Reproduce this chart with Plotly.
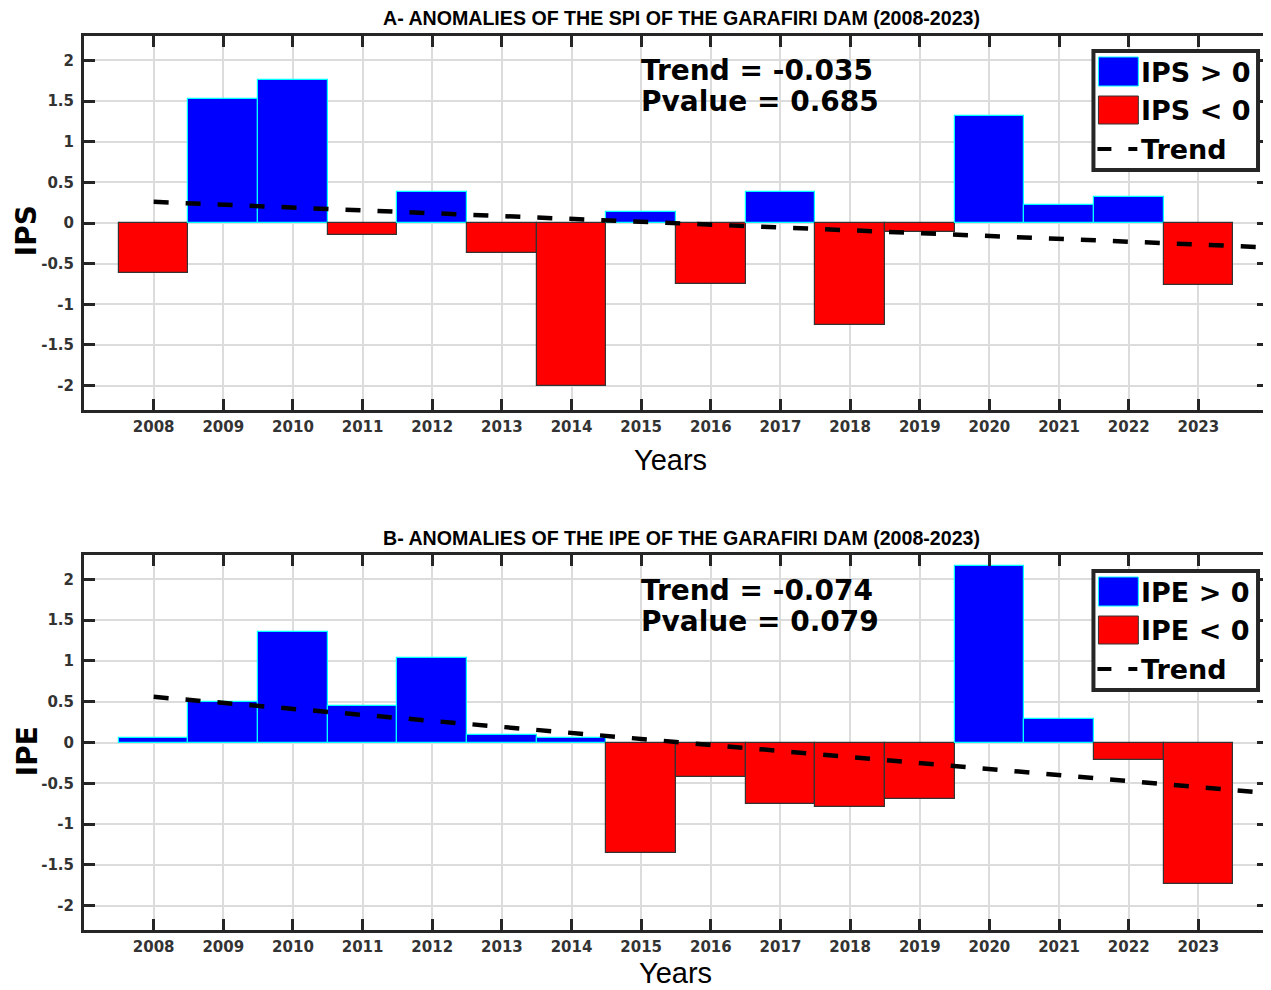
import plotly.graph_objects as go

# ---------------- data ----------------
years = list(range(2008, 2024))
ips = [-0.61, 1.53, 1.755, -0.15, 0.38, -0.37, -2.0, 0.13, -0.75, 0.38,
       -1.26, -0.11, 1.31, 0.22, 0.32, -0.76]
ipe = [0.05, 0.50, 1.36, 0.45, 1.04, 0.09, 0.06, -1.35, -0.42, -0.76,
       -0.79, -0.69, 2.16, 0.29, -0.21, -1.73]
trend_years = [2008, 2024]
ips_trend = [0.26, -0.30]
ipe_trend = [0.56, -0.62]
ips_stats = ["Trend = -0.035", "Pvalue = 0.685"]
ipe_stats = ["Trend = -0.074", "Pvalue = 0.079"]
ytick_vals = [-2, -1.5, -1, -0.5, 0, 0.5, 1, 1.5, 2]
ytick_text = ["-2", "-1.5", "-1", "-0.5", "0", "0.5", "1", "1.5", "2"]
titles = ["A- ANOMALIES OF THE SPI OF THE GARAFIRI DAM (2008-2023)",
          "B- ANOMALIES OF THE IPE OF THE GARAFIRI DAM (2008-2023)"]
names = ["IPS", "IPE"]
x_title = "Years"

BLUE, RED, CYAN = "#0000FF", "#FF0000", "#00FFFF"
AX = "#262626"

# ---------------- layout geometry (screen pixels; page body has 8px margin) ----------------
OFF = 8
SW, SH = 1271, 990
W, H = SW - OFF, SH - OFF
PL, PR = 84, 1271           # plot area left/right on screen
panels = [dict(top=36, bot=410), dict(top=555, bot=930)]
ML = PL - OFF
MR = 0
MT = panels[0]["top"] - OFF
MB = SH - panels[1]["bot"]
PW = W - ML - MR
PH = H - MT - MB


def xd(px):
    return (px - PL) / (PR - PL)


def yd(py, p):
    return (panels[p]["bot"] - py) / (panels[p]["bot"] - panels[p]["top"])


def yp(py):
    return (panels[1]["bot"] - py) / PH


fig = go.Figure()
shapes, annots = [], []

for p, (vals, trend, stats, nm) in enumerate(
        [(ips, ips_trend, ips_stats, names[0]), (ipe, ipe_trend, ipe_stats, names[1])]):
    xa = "x" if p == 0 else "x2"
    ya = "y" if p == 0 else "y2"
    colors = [BLUE if v > 0 else RED for v in vals]
    edges = [CYAN if v > 0 else "#333333" for v in vals]
    fig.add_trace(go.Bar(x=years, y=vals, width=1,
                         marker=dict(color=colors, line=dict(color=edges, width=1.2)),
                         xaxis=xa, yaxis=ya, showlegend=False))
    fig.add_trace(go.Scatter(x=trend_years, y=trend, mode="lines",
                             line=dict(color="black", width=4.5, dash="15px,17px"),
                             xaxis=xa, yaxis=ya, showlegend=False))

    xr = f"{xa} domain"
    yr = f"{ya} domain"
    off = 0 if p == 0 else 520
    # legend box
    shapes.append(dict(type="rect", xref=xr, yref=yr, x0=xd(1096), x1=xd(1261),
                       y0=yd(51 + off, p), y1=yd(170 + off, p),
                       line=dict(color=AX, width=4), fillcolor="white", layer="above"))
    shapes.append(dict(type="rect", xref=xr, yref=yr, x0=xd(1101), x1=xd(1141),
                       y0=yd(57 + off, p), y1=yd(86 + off, p),
                       line=dict(color=CYAN, width=1), fillcolor=BLUE, layer="above"))
    shapes.append(dict(type="rect", xref=xr, yref=yr, x0=xd(1101), x1=xd(1141),
                       y0=yd(96 + off, p), y1=yd(124 + off, p),
                       line=dict(color="#333333", width=1), fillcolor=RED, layer="above"))
    for a, b in [(1100, 1114), (1131, 1140)]:
        shapes.append(dict(type="line", xref=xr, yref=yr, x0=xd(a), x1=xd(b),
                           y0=yd(149 + off, p), y1=yd(149 + off, p),
                           line=dict(color="black", width=4), layer="above"))
    for txt, ty in [(f"{nm} > 0", 72), (f"{nm} < 0", 110), ("Trend", 149)]:
        annots.append(dict(text=f"<b>{txt}</b>", xref=xr, yref=yr, x=xd(1142), y=yd(ty + off, p),
                           xanchor="left", yanchor="middle", showarrow=False,
                           font=dict(family="DejaVu Sans", size=27, color="black")))
    # stats text
    for txt, ty in zip(stats, [70, 101]):
        annots.append(dict(text=f"<b>{txt}</b>", xref=xr, yref=yr, x=xd(640), y=yd(ty + off, p),
                           xanchor="left", yanchor="middle", showarrow=False,
                           font=dict(family="DejaVu Sans", size=28, color="black")))
    # panel title
    annots.append(dict(text=f"<b>{titles[p]}</b>", xref="paper", yref="paper",
                       x=xd(683), y=yp(18 + off), xanchor="center", yanchor="middle",
                       showarrow=False,
                       font=dict(family="Liberation Sans Narrow, Liberation Sans", size=19.6, color="black")))
    # x-axis title
    annots.append(dict(text=x_title, xref="paper", yref="paper",
                       x=xd(672 + 5 * p), y=yp(460 + 513 * p), xanchor="center", yanchor="middle",
                       showarrow=False, borderpad=0,
                       font=dict(family="Liberation Sans Narrow, Liberation Sans", size=29, color="black")))
    # y-axis title
    annots.append(dict(text=f"<b>{nm}</b>", xref="paper", yref="paper", textangle=-90,
                       x=xd(27), y=yp(231 + off), xanchor="center", yanchor="middle",
                       showarrow=False,
                       font=dict(family="DejaVu Sans", size=28, color="black")))

axis_common = dict(showline=True, linewidth=3, linecolor=AX, mirror="ticks",
                   ticks="inside", ticklen=11, tickwidth=3, tickcolor=AX,
                   showgrid=True, gridcolor="#DCDCDC", gridwidth=2, zeroline=False,
                   tickfont=dict(family="DejaVu Sans", size=15, color="#333333", weight="bold"))

xaxis = dict(axis_common, range=[2007, 2024], tickmode="array", tickvals=years,
             ticktext=[str(y) for y in years], ticklabelstandoff=1)
yaxis_t = dict(axis_common, range=[-2.3, 2.3], tickmode="array", tickvals=ytick_vals, ticktext=ytick_text,
               ticklabelstandoff=4)

fig.update_layout(
    width=W, height=H, autosize=False,
    margin=dict(l=ML, r=MR, t=MT, b=MB),
    paper_bgcolor="white", plot_bgcolor="white",
    bargap=0,
    xaxis=dict(xaxis, domain=[0, 1], anchor="y"),
    yaxis=dict(yaxis_t, domain=[yp(panels[0]["bot"]), yp(panels[0]["top"])], anchor="x"),
    xaxis2=dict(xaxis, domain=[0, 1], anchor="y2"),
    yaxis2=dict(yaxis_t, domain=[yp(panels[1]["bot"]), yp(panels[1]["top"])], anchor="x2"),
    shapes=shapes, annotations=annots,
)

fig.write_html("out.html")
